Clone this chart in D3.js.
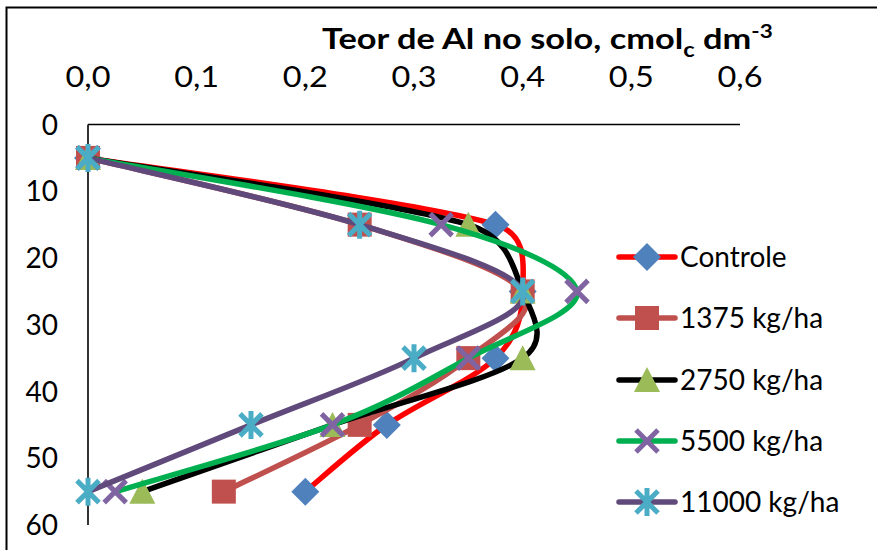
<!DOCTYPE html>
<html>
<head>
<meta charset="utf-8">
<script src="https://cdn.jsdelivr.net/npm/d3@7"></script>
<style>
  html, body { margin: 0; padding: 0; background: #fff; }
  svg { display: block; font-family: Lato, "Open Sans", sans-serif; }
</style>
</head>
<body>
<svg id="chart" width="877" height="550"></svg>
<script>
// Soil depth (cm) at which each sample was taken
const depths = [5, 15, 25, 35, 45, 55];

// Exchangeable Al content (cmolc dm-3) per treatment
const controle = [0.0, 0.375, 0.40, 0.375, 0.275, 0.20];
const t1375    = [0.0, 0.25,  0.40, 0.35,  0.25,  0.125];
const t2750    = [0.0, 0.35,  0.40, 0.40,  0.225, 0.05];
const t5500    = [0.0, 0.325, 0.45, 0.35,  0.225, 0.025];
const t11000   = [0.0, 0.25,  0.40, 0.30,  0.15,  0.0];

const seriesNames = ["Controle", "1375 kg/ha", "2750 kg/ha", "5500 kg/ha", "11000 kg/ha"];
const seriesValues = [controle, t1375, t2750, t5500, t11000];

const xTicks = [0, 0.1, 0.2, 0.3, 0.4, 0.5, 0.6];
const xTickLabels = ["0,0", "0,1", "0,2", "0,3", "0,4", "0,5", "0,6"];
const yTicks = [0, 10, 20, 30, 40, 50, 60];

// Styling per series: line colour, marker shape, marker colour
const lineColors = ["#FF0000", "#C0504D", "#000000", "#00B050", "#604A7B"];
const markerShapes = ["diamond", "square", "triangle", "x", "star"];
const markerColors = ["#4F81BD", "#C0504D", "#9BBB59", "#8064A2", "#4BACC6"];

const svg = d3.select("#chart");

// Horizontally stretch a text element to a given width, keeping its anchor point fixed
function stretchX(sel, width, anchorX) {
  const node = sel.node();
  const w = node.getBBox().width;
  const k = width / w;
  sel.attr("transform", `translate(${anchorX},0) scale(${k},1) translate(${-anchorX},0)`);
}

// Outer chart frame
svg.append("rect")
  .attr("x", 6.5).attr("y", 7.5)
  .attr("width", 900).attr("height", 600)
  .attr("fill", "#fff")
  .attr("stroke", "#000").attr("stroke-width", 2);

const x = d3.scaleLinear().domain([0, 0.6]).range([88, 740]);
const y = d3.scaleLinear().domain([0, 60]).range([124.5, 525]);

// Axis lines (x on top, depth increasing downward)
svg.append("line")
  .attr("x1", x(0)).attr("x2", x(0.6))
  .attr("y1", y(0)).attr("y2", y(0))
  .attr("stroke", "#000").attr("stroke-width", 1.6);
svg.append("line")
  .attr("x1", x(0)).attr("x2", x(0))
  .attr("y1", y(0)).attr("y2", y(60))
  .attr("stroke", "#000").attr("stroke-width", 1.6);

// X tick labels
svg.append("g").selectAll("text")
  .data(xTicks)
  .join("text")
  .attr("x", d => x(d))
  .attr("y", 87)
  .attr("text-anchor", "middle")
  .attr("font-size", 28)
  .attr("fill", "#000")
  .text((d, i) => xTickLabels[i])
  .each(function (d) { stretchX(d3.select(this), 45, x(d)); });

// Y tick labels
svg.append("g").selectAll("text")
  .data(yTicks)
  .join("text")
  .attr("x", 58)
  .attr("y", d => y(d))
  .attr("dy", "0.36em")
  .attr("text-anchor", "end")
  .attr("font-size", 28)
  .attr("fill", "#000")
  .text(d => d);

// Axis title with subscript and superscript
const title = svg.append("text")
  .attr("x", 322).attr("y", 49)
  .attr("font-size", 29)
  .attr("font-weight", "bold")
  .attr("fill", "#000");
title.append("tspan").text("Teor de Al no solo, cmol");
title.append("tspan").attr("font-size", 20).attr("dy", 8).text("c");
title.append("tspan").attr("dy", -8).text(" dm");
title.append("tspan").attr("font-size", 19).attr("dy", -11).text("-3");
stretchX(title, 451, 322);

// Marker path generator centred at (0,0)
function markerPath(shape) {
  switch (shape) {
    case "diamond": return "M0,-14L14,0L0,14L-14,0Z";
    case "square": return "M-12,-12H12V12H-12Z";
    case "triangle": return "M0,-13L13,12H-13Z";
    case "x": return "M-11,-11L11,11M11,-11L-11,11";
    case "star": return "M-11,-11L11,11M11,-11L-11,11M0,-14V14";
  }
}
function drawMarker(g, shape, color) {
  const p = g.append("path").attr("d", markerPath(shape));
  if (shape === "x" || shape === "star") {
    p.attr("fill", "none").attr("stroke", color).attr("stroke-width", 5);
  } else {
    p.attr("fill", color);
  }
}

// Smoothed line through screen points: cubic Béziers with tangents
// parallel to the neighbour chord, arm length 1/6 of the chord but never
// more than half of the segment it belongs to (limits overshoot).
function smoothPath(pts) {
  const p = d3.path();
  const n = pts.length;
  const dist = (a, b) => Math.hypot(b[0] - a[0], b[1] - a[1]);
  p.moveTo(pts[0][0], pts[0][1]);
  for (let i = 0; i < n - 1; i++) {
    const P0 = pts[Math.max(i - 1, 0)], P1 = pts[i], P2 = pts[i + 1], P3 = pts[Math.min(i + 2, n - 1)];
    const seg = dist(P1, P2);
    const t1 = [P2[0] - P0[0], P2[1] - P0[1]], l1 = Math.hypot(t1[0], t1[1]) || 1;
    const t2 = [P3[0] - P1[0], P3[1] - P1[1]], l2 = Math.hypot(t2[0], t2[1]) || 1;
    const a1 = Math.min(l1 / 6, seg * 0.5);
    const a2 = Math.min(l2 / 6, seg * 0.5);
    p.bezierCurveTo(
      P1[0] + t1[0] / l1 * a1, P1[1] + t1[1] / l1 * a1,
      P2[0] - t2[0] / l2 * a2, P2[1] - t2[1] / l2 * a2,
      P2[0], P2[1]);
  }
  return p.toString();
}

seriesValues.forEach((vals, i) => {
  const pts = vals.map((v, j) => ({ v, depth: depths[j] }));
  const g = svg.append("g");
  g.append("path")
    .attr("d", smoothPath(pts.map(d => [x(d.v), y(d.depth)])))
    .attr("fill", "none")
    .attr("stroke", lineColors[i])
    .attr("stroke-width", 5.5)
    .attr("stroke-linecap", "round")
    .attr("stroke-linejoin", "round");
  pts.forEach(p => {
    const m = g.append("g").attr("transform", `translate(${x(p.v)},${y(p.depth)})`);
    drawMarker(m, markerShapes[i], markerColors[i]);
  });
});

// Legend
const legendY = [257, 318, 380, 441, 502];
seriesNames.forEach((name, i) => {
  const g = svg.append("g").attr("transform", `translate(0,${legendY[i]})`);
  g.append("line")
    .attr("x1", 619).attr("x2", 675)
    .attr("stroke", lineColors[i])
    .attr("stroke-width", 5.5)
    .attr("stroke-linecap", "round");
  const m = g.append("g").attr("transform", "translate(647,0)");
  drawMarker(m, markerShapes[i], markerColors[i]);
  g.append("text")
    .attr("x", 680)
    .attr("dy", "0.36em")
    .attr("font-size", 28)
    .attr("fill", "#000")
    .text(name);
});
</script>
</body>
</html>
